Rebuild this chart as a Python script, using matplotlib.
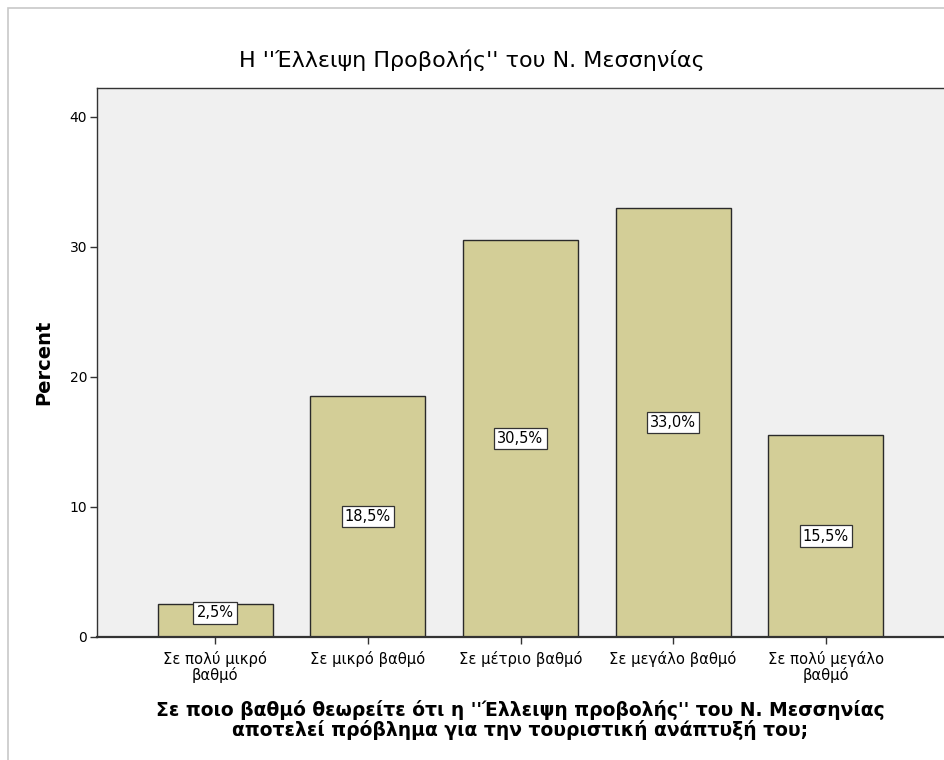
import matplotlib.pyplot as plt
from matplotlib.patches import Rectangle

plt.rcParams['font.family'] = ['DejaVu Sans']

categories = ['Σε πολύ μικρό\nβαθμό', 'Σε μικρό βαθμό', 'Σε μέτριο βαθμό',
              'Σε μεγάλο βαθμό', 'Σε πολύ μεγάλο\nβαθμό']
percents = [2.5, 18.5, 30.5, 33.0, 15.5]
yticks = [0, 10, 20, 30, 40]

fig = plt.figure(figsize=(9.44, 7.6), dpi=100)
W, H = 944, 760

# light outer frame
fig.patches.append(Rectangle((8 / W, -0.01), 1.0, 1 - 8 / H + 0.01, transform=fig.transFigure,
                             fill=False, edgecolor='#c8c8c8', linewidth=1.2))

ax = fig.add_axes([97 / W, (H - 637) / H, (944 - 97) / W, (637 - 88) / H])
ax.set_facecolor('#f0f0f0')

x = list(range(len(categories)))
ax.bar(x, percents, width=0.755, color='#d3ce97', edgecolor='#2a2a2a', linewidth=1.0, zorder=2)

for xi, v in zip(x, percents):
    ax.text(xi, max(v / 2, 1.85), f'{v:.1f}%'.replace('.', ','), ha='center', va='center',
            fontsize=10.5, zorder=3,
            bbox=dict(boxstyle='square,pad=0.22', facecolor='white', edgecolor='#333333', linewidth=0.9))

ax.set_xlim(-0.774, 4.774)
ax.set_ylim(0, 42.2)
ax.set_xticks(x)
ax.set_xticklabels(categories, fontsize=10.6, linespacing=1.0)
ax.set_yticks(yticks)
ax.tick_params(axis='y', labelsize=10, length=5, width=1, color='#333333', pad=2)
ax.tick_params(axis='x', length=5, width=1, color='#333333', pad=5)

for side in ['top', 'left']:
    ax.spines[side].set_color('#333333')
    ax.spines[side].set_linewidth(1.0)
ax.spines['bottom'].set_color('#333333')
ax.spines['bottom'].set_linewidth(1.6)
ax.spines['right'].set_visible(False)

ax.set_ylabel('Percent', fontsize=14, fontweight='bold', labelpad=12)
ax.set_xlabel('Σε ποιο βαθμό θεωρείτε ότι η \'\'Έλλειψη προβολής\'\' του Ν. Μεσσηνίας\n'
              'αποτελεί πρόβλημα για την τουριστική ανάπτυξή του;',
              fontsize=13.5, fontweight='bold', linespacing=1.0)
ax.xaxis.set_label_coords(0.5, -(720 - 637) / (637 - 88), transform=ax.transAxes)
ax.xaxis.label.set_verticalalignment('center')
fig.text(0.5, 1 - 60 / H, 'Η \'\'Έλλειψη Προβολής\'\' του Ν. Μεσσηνίας',
         fontsize=16, ha='center', va='center')

fig.savefig('out.png', dpi=100)
